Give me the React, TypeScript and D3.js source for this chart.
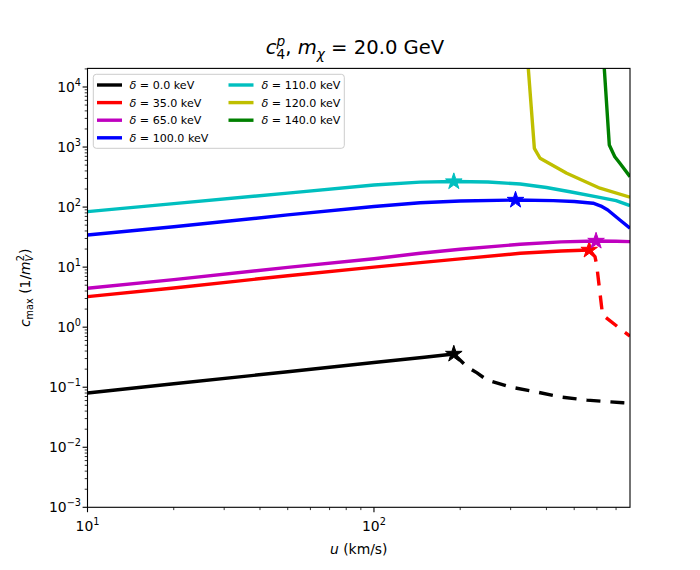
import React from 'react';
import * as d3 from 'd3';

const W = 700;
const H = 570;
const PLOT = { left: 87.5, right: 630, top: 68.4, bottom: 507.3 };

const X_DOMAIN = [10, 783];
const Y_DOMAIN = [1e-3, 2.04e4];
const X_TICK_EXPONENTS = [1, 2];
const Y_TICK_EXPONENTS = [-3, -2, -1, 0, 1, 2, 3, 4];

const DELTA_LABELS = ['0.0', '35.0', '65.0', '100.0', '110.0', '120.0', '140.0'];
const COLORS = ['#000000', '#ff0000', '#bf00bf', '#0000ff', '#00bfbf', '#bfbf00', '#008000'];

// delta = 0 keV
const U_D0 = [10, 20, 50, 100, 150, 190];
const C_D0 = [0.08, 0.114, 0.181, 0.258, 0.316, 0.357];
const U_D0_DASH = [190, 211, 229, 248, 298, 371, 446, 554, 666, 740, 783];
const C_D0_DASH = [0.357, 0.22, 0.173, 0.132, 0.101, 0.083, 0.069, 0.061, 0.057, 0.055, 0.054];
// delta = 35 keV
const U_D35 = [10, 20, 50, 100, 145, 200, 324, 450, 564];
const C_D35 = [3.22, 4.5, 7.2, 10.0, 11.9, 13.7, 17.0, 18.6, 19.3];
const U_D35_DASH = [564, 591, 599, 628, 741, 783];
const C_D35_DASH = [19.3, 14.9, 10.9, 1.6, 0.86, 0.71];
// delta = 65 keV
const U_D65 = [10, 20, 50, 100, 145, 200, 324, 450, 596, 700, 783];
const C_D65 = [4.45, 6.2, 9.9, 13.8, 17.0, 19.8, 24.0, 26.3, 27.2, 27.0, 26.6];
// delta = 100 keV
const U_D100 = [10, 20, 50, 100, 145, 200, 312, 423, 500, 582, 620, 655, 722, 783];
const C_D100 = [34.3, 47, 74, 102, 118, 126, 131, 128, 124, 116, 104, 89.5, 61, 44.4];
// delta = 110 keV
const U_D110 = [10, 20, 50, 100, 145, 190, 250, 324, 400, 483, 600, 700, 783];
const C_D110 = [84, 114, 171, 233, 260, 266, 262, 242, 212, 180, 148, 128, 106];
// delta = 120 keV
const U_D120 = [344, 363, 380, 471, 615, 783];
const C_D120 = [28000, 953, 650, 366, 206, 146];
// delta = 140 keV
const U_D140 = [634, 663, 693, 722, 783];
const C_D140 = [28000, 1082, 690, 536, 321];

// star markers (u, c) per delta (null = none)
const STAR_U = [190, 564, 596, 312, 190, null, null];
const STAR_C = [0.357, 19.3, 27.2, 131, 266, null, null];

const SOLID_U = [U_D0, U_D35, U_D65, U_D100, U_D110, U_D120, U_D140];
const SOLID_C = [C_D0, C_D35, C_D65, C_D100, C_D110, C_D120, C_D140];
const DASH_U = [U_D0_DASH, U_D35_DASH, null, null, null, null, null];
const DASH_C = [C_D0_DASH, C_D35_DASH, null, null, null, null, null];

const FONT = '"DejaVu Sans", Verdana, sans-serif';

function zip(us: number[], cs: number[]): [number, number][] {
  return us.map((u, i) => [u, cs[i]] as [number, number]);
}

function Pow10({ x, y, exp, anchor, size }: { x: number; y: number; exp: number; anchor: string; size: number }) {
  const expStr = exp < 0 ? '\u2212' + Math.abs(exp) : String(exp);
  return (
    <text x={x} y={y} textAnchor={anchor} fontSize={size} fontFamily={FONT} fill="#000">
      10
      <tspan fontSize={size * 0.7} dy={-size * 0.42}>{expStr}</tspan>
    </text>
  );
}

export default function App() {
  const x = d3.scaleLog().domain(X_DOMAIN).range([PLOT.left, PLOT.right]);
  const y = d3.scaleLog().domain(Y_DOMAIN).range([PLOT.bottom, PLOT.top]);
  const line = d3
    .line<[number, number]>()
    .x((d) => x(d[0]))
    .y((d) => y(d[1]));
  const star = d3.symbol().type(d3.symbolStar).size(85)();

  const xMinor: number[] = [];
  for (let e = 0; e <= 3; e++) {
    for (let k = 2; k <= 9; k++) {
      const v = k * Math.pow(10, e);
      if (v > X_DOMAIN[0] && v < X_DOMAIN[1]) xMinor.push(v);
    }
  }
  const yMinor: number[] = [];
  for (let e = -3; e <= 4; e++) {
    for (let k = 2; k <= 9; k++) {
      const v = k * Math.pow(10, e);
      if (v > Y_DOMAIN[0] && v < Y_DOMAIN[1]) yMinor.push(v);
    }
  }

  const legendRows = [85, 102.6, 120.2, 137.8];
  const legendCols = [
    { hx0: 97, hx1: 122, tx: 129.5 },
    { hx0: 228.5, hx1: 253.5, tx: 261.5 },
  ];

  return (
    <svg width={W} height={H} style={{ display: 'block', margin: '-8px' }}>
      <rect width={W} height={H} fill="#fff" />
      <defs>
        <clipPath id="plotclip">
          <rect x={PLOT.left} y={PLOT.top} width={PLOT.right - PLOT.left} height={PLOT.bottom - PLOT.top} />
        </clipPath>
      </defs>

      {/* series */}
      <g clipPath="url(#plotclip)">
        {COLORS.map((col, i) => (
          <g key={i}>
            <path d={line(zip(SOLID_U[i], SOLID_C[i])) || ''} fill="none" stroke={col} strokeWidth={3.4} strokeLinejoin="round" />
            {DASH_U[i] && (
              <path
                d={line(zip(DASH_U[i] as number[], DASH_C[i] as number[])) || ''}
                fill="none"
                stroke={col}
                strokeWidth={3.4}
                strokeDasharray="14 10"
              />
            )}
            {STAR_U[i] !== null && (
              <path
                d={star || ''}
                transform={`translate(${x(STAR_U[i] as number)},${y(STAR_C[i] as number)})`}
                fill={col}
                stroke={col}
                strokeWidth={1}
              />
            )}
          </g>
        ))}
      </g>

      {/* axes frame */}
      <rect
        x={PLOT.left}
        y={PLOT.top}
        width={PLOT.right - PLOT.left}
        height={PLOT.bottom - PLOT.top}
        fill="none"
        stroke="#000"
        strokeWidth={1.1}
      />

      {/* x ticks */}
      {X_TICK_EXPONENTS.map((e) => (
        <g key={'xt' + e}>
          <line x1={x(Math.pow(10, e))} x2={x(Math.pow(10, e))} y1={PLOT.bottom} y2={PLOT.bottom + 4.9} stroke="#000" strokeWidth={1.1} />
          <Pow10 x={x(Math.pow(10, e))} y={PLOT.bottom + 23.5} exp={e} anchor="middle" size={13.9} />
        </g>
      ))}
      {xMinor.map((v) => (
        <line key={'xm' + v} x1={x(v)} x2={x(v)} y1={PLOT.bottom} y2={PLOT.bottom + 2.8} stroke="#000" strokeWidth={0.8} />
      ))}

      {/* y ticks */}
      {Y_TICK_EXPONENTS.map((e) => (
        <g key={'yt' + e}>
          <line x1={PLOT.left - 4.9} x2={PLOT.left} y1={y(Math.pow(10, e))} y2={y(Math.pow(10, e))} stroke="#000" strokeWidth={1.1} />
          <Pow10 x={PLOT.left - 6.5} y={y(Math.pow(10, e)) + 5} exp={e} anchor="end" size={13.9} />
        </g>
      ))}
      {yMinor.map((v) => (
        <line key={'ym' + v} x1={PLOT.left - 2.8} x2={PLOT.left} y1={y(v)} y2={y(v)} stroke="#000" strokeWidth={0.8} />
      ))}

      {/* axis labels */}
      <text x={(PLOT.left + PLOT.right) / 2} y={554} textAnchor="middle" fontSize={13.9} fontFamily={FONT}>
        <tspan fontStyle="italic">u</tspan> (km/s)
      </text>
      <text
        transform={`translate(29.5,${(PLOT.top + PLOT.bottom) / 2}) rotate(-90)`}
        textAnchor="middle"
        fontSize={13.9}
        fontFamily={FONT}
      >
        <tspan fontStyle="italic">c</tspan>
        <tspan fontSize={9.7} dy={3}>max</tspan>
        <tspan dy={-3}> (1/</tspan>
        <tspan fontStyle="italic">m</tspan>
        <tspan fontSize={9.7} fontStyle="italic" dy={3.5}>V</tspan>
        <tspan fontSize={9.7} dx={-6.5} dy={-9.5}>2</tspan>
        <tspan dx={1} dy={6}>)</tspan>
      </text>

      {/* title */}
      <text x={355} y={53.5} textAnchor="middle" fontSize={19.6} fontFamily={FONT}>
        <tspan fontStyle="italic">c</tspan>
        <tspan fontSize={13.7} dy={5}>4</tspan>
        <tspan fontSize={13.7} fontStyle="italic" dx={-8.7} dy={-12.5}>p</tspan>
        <tspan dy={7.5}>, </tspan>
        <tspan fontStyle="italic">m</tspan>
        <tspan fontSize={13.7} fontStyle="italic" dy={5}>χ</tspan>
        <tspan dy={-5}> = 20.0 GeV</tspan>
      </text>

      {/* legend */}
      <rect x={93.3} y={74.3} width={251} height={74} rx={3} ry={3} fill="#fff" fillOpacity={0.8} stroke="#cccccc" strokeWidth={1} />
      {DELTA_LABELS.map((lab, i) => {
        const col = i < 4 ? 0 : 1;
        const row = i < 4 ? i : i - 4;
        const c = legendCols[col];
        const ry = legendRows[row];
        return (
          <g key={'lg' + i}>
            <line x1={c.hx0} x2={c.hx1} y1={ry} y2={ry} stroke={COLORS[i]} strokeWidth={3.4} />
            <text x={c.tx} y={ry + 4} fontSize={11.1} fontFamily={FONT}>
              <tspan fontStyle="italic">δ</tspan>
              {' = ' + lab + ' keV'}
            </text>
          </g>
        );
      })}
    </svg>
  );
}
